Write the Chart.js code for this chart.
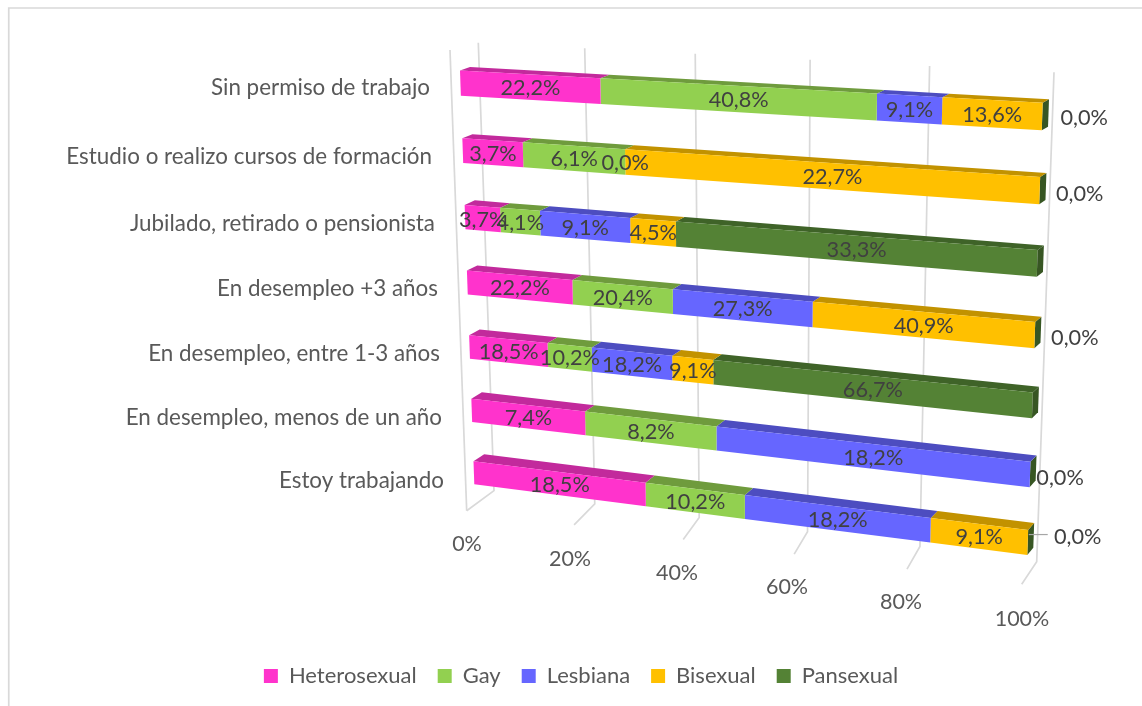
<!DOCTYPE html>
<html><head><meta charset="utf-8">
<style>html,body{margin:0;padding:0;background:#fff}canvas{display:block}</style>
<script src="https://cdn.jsdelivr.net/npm/chart.js@4"></script>
</head><body><canvas id="c" width="1142" height="706"></canvas>
<script>
const categories = ["Sin permiso de trabajo","Estudio o realizo cursos de formación","Jubilado, retirado o pensionista","En desempleo +3 años","En desempleo, entre 1-3 años","En desempleo, menos de un año","Estoy trabajando"];
const seriesNames = ["Heterosexual","Gay","Lesbiana","Bisexual","Pansexual"];
const heterosexual = [22.2,3.7,3.7,22.2,18.5,7.4,18.5];
const gay = [40.8,6.1,4.1,20.4,10.2,8.2,10.2];
const lesbiana = [9.1,0.0,9.1,27.3,18.2,18.2,18.2];
const bisexual = [13.6,22.7,4.5,40.9,9.1,null,9.1];
const pansexual = [0.0,0.0,33.3,0.0,66.7,0.0,0.0];
const series = [heterosexual,gay,lesbiana,bisexual,pansexual];
const rowTotals = categories.map((_,r)=>series.reduce((s,a)=>s+(a[r]||0),0));

const faceColors = ["#FF33CC","#92D050","#6666FF","#FFC000","#548235"];
const topColors  = ["#C22A9C","#6F9B3D","#4D4DC0","#C29200","#3F6328"];
const sideColor = "#375623";
const BAR_FRACTION = 0.37;
// projective mapping of the chart plane onto the 3D-looking picture
function homography(src,dst){
  const A=[];
  for(let i=0;i<4;i++){const [x,y]=src[i],[X,Y]=dst[i];
    A.push([x,y,1,0,0,0,-x*X,-y*X,X]);A.push([0,0,0,x,y,1,-x*Y,-y*Y,Y]);}
  for(let i=0;i<8;i++){let p=i;for(let r=i+1;r<8;r++)if(Math.abs(A[r][i])>Math.abs(A[p][i]))p=r;
    [A[i],A[p]]=[A[p],A[i]];
    for(let r=0;r<8;r++){if(r===i)continue;const f=A[r][i]/A[i][i];for(let c=i;c<9;c++)A[r][c]-=f*A[i][c];}}
  const h=A.map((row,i)=>row[8]/row[i]);
  return (u,v)=>{const w=h[6]*u+h[7]*v+1;return [(h[0]*u+h[1]*v+h[2])/w,(h[3]*u+h[4]*v+h[5])/w];};
}
const vTop=(0.5-BAR_FRACTION/2)/7, vBot=1-vTop;
const srcQuad=[[0,vTop],[1,vTop],[1,vBot],[0,vBot]];
const frontPlane=homography(srcQuad,[[460,70.5],[1042.7,102.7],[1027.3,555],[474.3,484.3]]);
const backPlane =homography(srcQuad,[[470,67],[1049,99.2],[1033.3,547.7],[485,477]]);
const unit=[[0,0],[1,0],[1,1],[0,1]];
const wall =homography(unit,[[478.3,42.7],[1054,72.3],[1036.7,561.7],[494,490.7]]);
const floorP=homography(unit,[[494,490.7],[1036.7,561.7],[1021.7,584.3],[466.7,510.7]]);
const gridColor="#D9D9D9", dataFont="21.7px Lato", axisFont="21.5px Lato", catFont="22.4px Lato";
const labelY=[88,157,224,289,354,418,481], labelRight=[430,432,435,438,440,442,444];
const tickLabelPos=[[467,544],[570,559],[677,573],[787,587],[901,602],[1022,619]];
const endLabelOffset=[[42,0],[40,2],null,[40,2],null,[30,2],[50,-7]];

function poly(ctx,pts,fill){ctx.beginPath();pts.forEach((p,i)=>i?ctx.lineTo(p[0],p[1]):ctx.moveTo(p[0],p[1]));ctx.closePath();ctx.fillStyle=fill;ctx.fill();}
function uv(chart,px,py){const a=chart.chartArea;return [(px-a.left)/(a.right-a.left),(py-a.top)/(a.bottom-a.top)];}

const projected={
  id:'projected',
  beforeDatasetsDraw(chart){
    const ctx=chart.ctx,xs=chart.scales.x,ys=chart.scales.y;
    ctx.save();
    ctx.strokeStyle=gridColor;ctx.lineWidth=1.7;
    // frame
    ctx.beginPath();ctx.moveTo(8.75,706);ctx.lineTo(8.75,8);ctx.lineTo(1142,8);ctx.stroke();
    // side wall edge
    const ticks=xs.ticks;
    ctx.beginPath();ctx.moveTo(450,50);ctx.lineTo(466.7,510.7);ctx.stroke();
    ticks.forEach((t,i)=>{
      const u=uv(chart,xs.getPixelForValue(t.value),0)[0];
      const a=wall(u,0),b=wall(u,1),c=floorP(u,1);
      ctx.beginPath();ctx.moveTo(a[0],a[1]);ctx.lineTo(b[0],b[1]);ctx.lineTo(c[0],c[1]);ctx.stroke();
      ctx.font=axisFont;ctx.fillStyle="#595959";ctx.textAlign="center";ctx.textBaseline="middle";
      ctx.fillText(t.label,tickLabelPos[i][0],tickLabelPos[i][1]);
    });
    ctx.font=catFont;ctx.fillStyle="#595959";ctx.textAlign="right";ctx.textBaseline="middle";
    ys.ticks.forEach((t,i)=>ctx.fillText(categories[t.value],labelRight[i],labelY[i]));
    ctx.restore();
  },
  beforeDatasetDraw(chart,args){
    const ctx=chart.ctx,idx=args.index;
    args.meta.data.forEach((el,r)=>{
      if(series[idx][r]==null) return;
      const p=el.getProps(['x','y','base','height'],true);
      const [u0,v0]=uv(chart,p.base,p.y-p.height/2),[u1,v1]=uv(chart,p.x,p.y+p.height/2);
      const fa=frontPlane(u0,v0),fb=frontPlane(u1,v0),fc=frontPlane(u1,v1),fd=frontPlane(u0,v1);
      const ba=backPlane(u0,v0),bb=backPlane(u1,v0),bc=backPlane(u1,v1);
      if(u1>u0){poly(ctx,[fa,fb,bb,ba],topColors[idx]);poly(ctx,[fa,fb,fc,fd],faceColors[idx]);}
      if(idx===series.length-1) poly(ctx,[fb,bb,bc,fc],sideColor);
    });
    return false;
  },
  afterDatasetsDraw(chart){
    const ctx=chart.ctx;
    ctx.save();ctx.font=dataFont;ctx.fillStyle="#404040";ctx.textAlign="center";ctx.textBaseline="middle";
    const fmt=v=>v.toFixed(1).replace('.',',')+'%';
    series.forEach((arr,idx)=>{
      const meta=chart.getDatasetMeta(idx);
      meta.data.forEach((el,r)=>{
        if(arr[r]==null) return;
        const p=el.getProps(['x','y','base','height'],true);
        const [u0,v]=uv(chart,p.base,p.y),[u1]=uv(chart,p.x,p.y);
        const s=frontPlane(u0,v),e=frontPlane(u1,v);
        let X=(s[0]+e[0])/2,Y=(s[1]+e[1])/2;
        if(idx===series.length-1&&arr[r]===0&&endLabelOffset[r]){X+=endLabelOffset[r][0];Y+=endLabelOffset[r][1];}
        ctx.fillText(fmt(arr[r]),X,Y+1);
      });
    });
    // leader line of the lowest zero label
    const last=chart.getDatasetMeta(series.length-1).data[6].getProps(['x','y'],true);
    const [u,v]=uv(chart,last.x,last.y);const e=frontPlane(u,v);
    ctx.strokeStyle="#A6A6A6";ctx.lineWidth=1.2;ctx.beginPath();ctx.moveTo(e[0]+1,e[1]-8);ctx.lineTo(e[0]+20,e[1]-8);ctx.stroke();
    ctx.restore();
  }
};

new Chart(document.getElementById('c'),{
  type:'bar',
  data:{labels:categories,datasets:series.map((arr,i)=>({
    label:seriesNames[i],
    data:arr.map((v,r)=>v==null?null:v/rowTotals[r]*100),
    backgroundColor:faceColors[i],borderWidth:0,
    barPercentage:BAR_FRACTION,categoryPercentage:1
  }))},
  options:{
    indexAxis:'y',responsive:false,animation:false,
    layout:{padding:{top:40,left:40,right:20,bottom:9}},
    scales:{
      x:{stacked:true,min:0,max:100,display:false,ticks:{stepSize:20,callback:v=>v+'%'}},
      y:{stacked:true,display:false}
    },
    plugins:{
      tooltip:{enabled:false},
      legend:{position:'bottom',labels:{boxWidth:14,boxHeight:14,padding:21,font:{family:'Lato',size:22},color:'#595959'}}
    }
  },
  plugins:[projected]
});
</script></body></html>
